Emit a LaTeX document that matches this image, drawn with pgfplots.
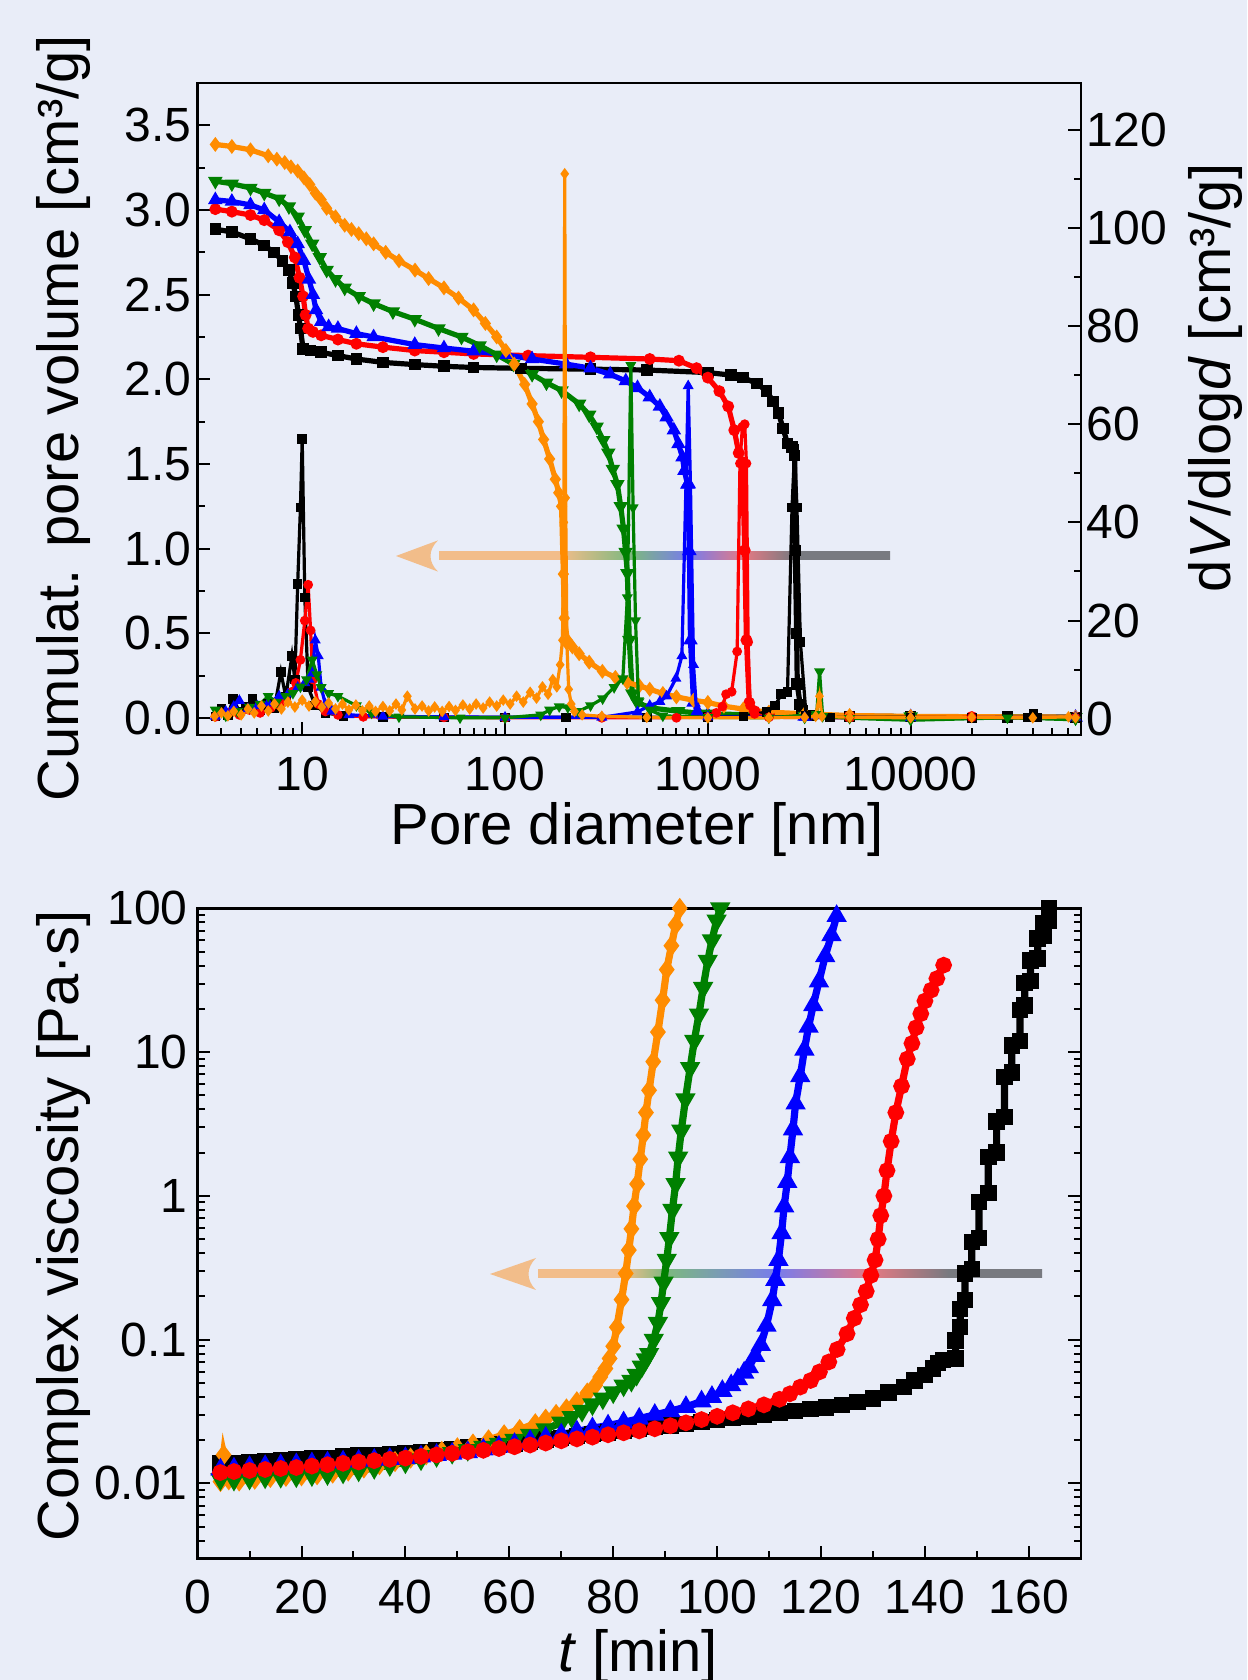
\documentclass[border=0pt]{standalone}
\usepackage{fontspec}
\setmainfont{Liberation Sans}
\usepackage{pgfplots}
\pgfplotsset{compat=1.18}

\definecolor{bg}{RGB}{233,237,248}
\definecolor{cgreen}{RGB}{0,128,0}
\definecolor{corange}{RGB}{255,140,0}
\definecolor{aor}{RGB}{242,189,138}
\definecolor{agr}{RGB}{124,184,128}
\definecolor{abl}{RGB}{120,124,236}
\definecolor{are}{RGB}{228,122,132}
\definecolor{abk}{RGB}{120,122,128}

% arrow gradients (centre 25bp..75bp maps onto the shaft)
\pgfdeclarehorizontalshading{arrtop}{100bp}{color(0bp)=(aor); color(38.4bp)=(aor); color(46.3bp)=(agr); color(52.7bp)=(abl); color(58.8bp)=(are); color(64.4bp)=(abk); color(100bp)=(abk)}
\pgfdeclarehorizontalshading{arrbot}{100bp}{color(0bp)=(aor); color(33.4bp)=(aor); color(37.8bp)=(agr); color(48.6bp)=(abl); color(58.1bp)=(are); color(65.7bp)=(abk); color(100bp)=(abk)}

\newcommand{\labfont}{\fontsize{14.5}{17}\selectfont}
\pgfplotsset{
  base/.style={scale only axis, width=220.8pt, anchor=south west,
    axis line style={line width=0.6pt}, tick style={black, line width=0.5pt},
    major tick length=3.2pt, minor tick length=1.8pt, tick align=inside,
    ticklabel style={font=\fontsize{12}{14}\selectfont},
    /pgf/number format/assume math mode=true},
  cum/.style={line width=1.3pt, mark size=0.8pt},
  dv/.style={line width=0.8pt, mark size=0.8pt},
  botc/.style={line width=1.8pt, mark size=1.15pt},
}

\begin{document}
\begin{tikzpicture}
\path[use as bounding box, fill=bg] (0,0) rectangle (311.75pt,420pt);

% arrows (under the curves)
\path[shading=arrtop] (109.75pt,280pt) rectangle (222.5pt,282pt);
\fill[aor] (99pt,281pt) -- (109.5pt,284.9pt) .. controls (107pt,282.5pt) and (107pt,279.5pt) .. (109.5pt,277.1pt) -- cycle;
\path[shading=arrbot] (134.5pt,100.5pt) rectangle (260.5pt,102.5pt);
\fill[aor] (122.5pt,101.5pt) -- (134pt,105.5pt) .. controls (131.5pt,103pt) and (131.5pt,100pt) .. (134pt,97.5pt) -- cycle;

% ---- top: cumulative pore volume
\begin{axis}[base, at={(49.4pt,236.25pt)}, height=163pt,
  xmode=log, xmin=3.05, xmax=69000, ymin=-0.1, ymax=3.75,
  xtick={10,100,1000,10000}, xticklabels={10,100,1000,10000},
  minor xtick={4,5,6,7,8,9,20,30,40,50,60,70,80,90,200,300,400,500,600,700,800,900,
    2000,3000,4000,5000,6000,7000,8000,9000,20000,30000,40000,50000,60000},
  ytick={0,0.5,...,3.5}, minor ytick={0.25,0.75,1.25,1.75,2.25,2.75,3.25},
  yticklabel style={/pgf/number format/fixed, /pgf/number format/fixed zerofill,
    /pgf/number format/precision=1, xshift=2pt},
  xtick pos=left, ytick pos=left,
  xticklabel style={yshift=-1.9pt},
  xlabel={Pore diameter [nm]}, ylabel={Cumulat. pore volume [cm³/g]},
  every axis x label/.style={at={(axis description cs:0.4975,-0.1687)}, anchor=base, font=\labfont},
  every axis y label/.style={at={(axis description cs:-0.1354,0.486)}, anchor=base, rotate=90, font=\labfont},
]
\addplot[cum, black, mark=square*] coordinates {(3.73,2.887)(4.5,2.87)(5.56,2.83)(6.5,2.79)(7.26,2.75)(8.0,2.70)(8.58,2.645)(9.0,2.57)(9.3,2.49)(9.6,2.38)(9.8,2.30)(10.1,2.18)(11,2.17)(12.4,2.16)(15,2.14)(18.5,2.12)(25,2.10)(35.9,2.087)(50,2.077)(70,2.07)(120,2.065)(264,2.06)(500,2.055)(1000,2.04)(1300,2.025)(1495,2.01)(1750,1.975)(1950,1.93)(2100,1.87)(2230,1.80)(2350,1.71)(2470,1.62)(2600,1.60)(2680,1.55)(2700,0.99)(2740,0.5)(2760,0.2)(2850,0.08)(2915,0.04)(3200,0.015)(5000,0.01)(10000,0.008)(30000,0.005)(65000,0.003)};
\addplot[cum, red, mark=*] coordinates {(3.73,3.005)(4.5,2.99)(5.56,2.97)(6.5,2.94)(7.7,2.88)(8.5,2.81)(9.2,2.72)(9.7,2.60)(10.1,2.49)(10.4,2.38)(10.7,2.30)(11.3,2.28)(12.4,2.26)(15,2.235)(18.5,2.21)(25,2.19)(35.9,2.17)(50,2.16)(70,2.15)(130,2.14)(264,2.13)(517,2.12)(720,2.11)(880,2.066)(1000,2.01)(1140,1.93)(1260,1.84)(1350,1.70)(1420,1.565)(1482,1.51)(1520,0.99)(1550,0.46)(1600,0.09)(1700,0.04)(2000,0.02)(5000,0.01)(20000,0.006)(65000,0.004)};
\addplot[cum, blue, mark=triangle*] coordinates {(3.73,3.06)(4.5,3.05)(5.56,3.03)(6.5,3.0)(7.7,2.93)(8.7,2.87)(9.5,2.80)(10.2,2.70)(10.8,2.59)(11.3,2.50)(11.7,2.41)(12.4,2.34)(13.5,2.31)(15,2.30)(18.5,2.27)(22.5,2.25)(35.9,2.205)(50,2.185)(70,2.166)(100,2.145)(136,2.12)(200,2.09)(264,2.066)(330,2.03)(394,1.99)(450,1.95)(517,1.895)(580,1.84)(626,1.776)(680,1.70)(716,1.618)(750,1.54)(766,1.46)(794,1.38)(811,0.987)(821,0.46)(850,0.092)(890,0.04)(1000,0.02)(3000,0.01)(10000,0.007)(65000,0.004)};
\addplot[cum, cgreen, mark=triangle*, mark options={rotate=180}] coordinates {(3.73,3.17)(4.5,3.155)(5.56,3.13)(6.5,3.10)(7.7,3.066)(8.6,3.02)(9.5,2.96)(10.3,2.88)(11.2,2.80)(12.2,2.72)(13.2,2.645)(14.6,2.59)(16.2,2.54)(19,2.49)(22.5,2.447)(28,2.40)(35.9,2.355)(47,2.30)(61,2.25)(75,2.20)(91,2.145)(110,2.09)(136,2.03)(160,1.98)(190,1.934)(232,1.855)(260,1.79)(283,1.72)(305,1.64)(323,1.566)(340,1.47)(358,1.38)(372,1.25)(384,1.118)(393,0.98)(401,0.855)(410,0.46)(424,0.145)(449,0.092)(520,0.06)(715,0.04)(1000,0.025)(3000,0.012)(10000,0.008)(65000,0.005)};
\addplot[cum, corange, mark=diamond*] coordinates {(3.73,3.387)(4.5,3.375)(5.56,3.355)(6.8,3.32)(7.5,3.30)(8.2,3.28)(8.8,3.255)(9.5,3.23)(10.2,3.19)(10.9,3.15)(11.6,3.10)(12.4,3.06)(13.2,3.01)(14.6,2.96)(16.2,2.91)(17.5,2.885)(19,2.86)(20.7,2.83)(22.5,2.80)(25.8,2.75)(30,2.70)(36,2.645)(42,2.595)(50,2.54)(59,2.48)(70,2.41)(80,2.33)(91,2.25)(101,2.17)(111,2.09)(125,1.97)(136,1.855)(146,1.75)(155,1.645)(166,1.53)(177,1.41)(184,1.33)(190,1.25)(194,0.85)(196,0.59)(203,0.46)(215,0.42)(232,0.38)(260,0.33)(302,0.276)(350,0.24)(400,0.21)(460,0.19)(517,0.17)(600,0.145)(700,0.125)(850,0.105)(1000,0.092)(1200,0.07)(1495,0.053)(2000,0.035)(3000,0.025)(5000,0.015)(10000,0.01)(65000,0.005)};
\end{axis}

% ---- top: dV/dlogd on the right axis
\begin{axis}[base, at={(49.4pt,236.25pt)}, height=163pt,
  xmode=log, xmin=3.05, xmax=69000, ymin=-3.3, ymax=129.5,
  hide x axis, ytick pos=right, yticklabel pos=right,
  ytick={0,20,...,120}, minor ytick={10,30,50,70,90,110},
  yticklabel style={xshift=-2pt},
  ylabel={d\textit{V}/dlog\textit{d} [cm³/g]},
  every axis y label/.style={at={(axis description cs:1.1698,0.5475)}, anchor=base, rotate=90, font=\labfont},
]
\addplot[dv, black, mark=square*] coordinates {(3.73,0.5)(4.0,2.0)(4.3,0.8)(4.57,4.0)(4.9,1.5)(5.3,2.5)(5.7,4.0)(6.2,1.8)(6.8,3.0)(7.3,2.2)(7.85,9.5)(8.3,4.5)(8.9,12.8)(9.2,8)(9.5,27.5)(9.8,43)(10.0,57)(10.3,24.7)(10.7,6.4)(11.6,2.7)(13,1.2)(16,0.6)(25,0.4)(50,0.3)(100,0.3)(200,0.3)(500,0.3)(1000,0.4)(1500,0.5)(1950,1.4)(2150,2.7)(2300,5.0)(2470,5.5)(2600,43)(2680,55)(2750,43)(2860,15.6)(3050,0.7)(4000,0.3)(10000,0.3)(20000,0.2)(38000,0.3)(40400,1.0)(42000,0.3)(65000,0.2)};
\addplot[dv, red, mark=*] coordinates {(3.73,0.4)(4.3,1.2)(4.9,0.8)(5.5,1.8)(6.2,1.2)(7.0,2.2)(7.7,2.8)(8.3,4.0)(8.9,5.5)(9.3,7.3)(9.8,12)(10.3,20)(10.7,27.3)(11.0,18)(11.3,8)(12,3)(13,1.5)(15,0.8)(20,0.4)(50,0.3)(100,0.2)(300,0.2)(700,0.2)(1000,0.4)(1100,1.2)(1180,2.5)(1230,5.0)(1310,5.5)(1395,13.7)(1440,52)(1480,59.5)(1520,60)(1550,52)(1580,15.6)(1615,2.7)(1700,1.0)(2000,0.3)(5000,0.2)(20000,0.3)(65000,0.2)};
\addplot[dv, blue, mark=triangle*] coordinates {(3.73,0.5)(4.2,1.5)(4.6,2.5)(4.9,3.7)(5.4,2.0)(6.0,2.6)(6.8,3.2)(7.7,4.6)(8.5,5.0)(9.5,6.4)(10.3,7.3)(10.8,8)(11.2,9.2)(11.6,16)(12.0,12.8)(12.4,6.4)(13,3)(14,1.5)(17,0.8)(25,0.5)(50,0.4)(100,0.3)(300,0.3)(450,1.4)(517,2.7)(580,3.5)(626,4.6)(696,8.2)(745,12.8)(780,47.6)(800,67.8)(821,47.6)(850,11)(880,1.4)(1000,0.4)(3000,0.3)(10000,0.2)(65000,0.3)};
\addplot[dv, cgreen, mark=triangle*, mark options={rotate=180}] coordinates {(3.73,1.8)(4.2,0.6)(4.8,1.5)(5.5,2.4)(6.2,3.0)(6.8,4.6)(7.5,3.4)(8.3,4.6)(9.0,5.2)(9.8,6.5)(10.5,8)(11.2,12)(11.8,9)(12.4,6.4)(13.5,5.2)(15,4.6)(18.5,2.7)(22,1.2)(30,0.4)(60,0.2)(100,0.2)(150,0.8)(166,1.8)(185,2.5)(204,2.3)(230,1.5)(264,2.7)(303,4.1)(345,6.4)(381,8.2)(401,24.7)(417,72)(428,43)(440,20)(455,3.7)(517,1.8)(600,0.6)(1000,0.3)(2000,0.2)(3440,0.9)(3556,9.6)(3680,0.5)(5000,0.1)(10000,-0.3)(30000,0.2)(65000,-0.2)};
\addplot[dv, corange, mark=diamond*] coordinates {(3.7,0.5)(4.0,1.2)(4.3,0.6)(4.6,1.5)(5.0,0.8)(5.4,2.0)(5.8,1.2)(6.3,2.6)(6.8,1.6)(7.3,3.0)(7.9,2.0)(8.5,3.4)(9.2,2.4)(10,3.8)(10.8,2.6)(11.6,3.5)(12.5,2.4)(13.5,3.2)(14.6,2.0)(15.8,3.0)(17,1.8)(18.4,2.8)(19.8,1.6)(21.4,2.6)(23,1.5)(25,2.5)(27,1.6)(29,3.0)(31,1.8)(33,4.6)(36,2.0)(39,2.6)(42,1.6)(45,2.4)(49,1.5)(53,2.5)(57,1.7)(62,2.8)(67,2.0)(72,3.0)(78,2.2)(84,3.4)(91,2.6)(98,3.8)(106,3.0)(114,4.6)(123,3.4)(133,5.4)(143,4.2)(153,6.5)(163,5.0)(172,8.0)(180,6.5)(187,11)(192,16)(195,40)(197,111)(199,45)(202,15)(206,6)(212,3)(220,1.5)(240,0.8)(300,0.5)(500,0.3)(1000,0.2)(2000,0.2)(3000,0.3)(3400,0.5)(3550,4.6)(3650,0.5)(5000,0.3)(10000,0.2)(20000,0.3)(40000,0.2)(60000,0.4)(65000,0.2)};
\end{axis}

% ---- bottom: complex viscosity
\begin{axis}[base, at={(49.4pt,30.35pt)}, height=162.55pt,
  ymode=log, xmin=0, xmax=170, ymin=0.003, ymax=100,
  xtick={0,20,...,160}, minor x tick num=1,
  ytick={0.01,0.1,1,10,100}, yticklabels={0.01,0.1,1,10,100},
  minor ytick={0.003,0.004,0.005,0.006,0.007,0.008,0.009,0.02,0.03,0.04,0.05,0.06,0.07,0.08,0.09,
    0.2,0.3,0.4,0.5,0.6,0.7,0.8,0.9,2,3,4,5,6,7,8,9,20,30,40,50,60,70,80,90},
  xtick pos=left, ytick pos=both, yticklabel pos=left,
  xticklabel style={yshift=-1.7pt}, yticklabel style={xshift=1pt},
  xlabel={\textit{t} [min]}, ylabel={Complex viscosity [Pa·s]},
  every axis x label/.style={at={(axis description cs:0.4986,-0.1738)}, anchor=base, font=\labfont},
  every axis y label/.style={at={(axis description cs:-0.1354,0.5115)}, anchor=base, rotate=90, font=\labfont},
]
\addplot[botc, black, mark=square*] coordinates {(4.4,0.0138)(7,0.0139)(10,0.0141)(13,0.0143)(16,0.0145)(19,0.0147)(22,0.0149)(25,0.0151)(28,0.0154)(31,0.0156)(34,0.0158)(37,0.0161)(40,0.0163)(43,0.0166)(46,0.0170)(49,0.0174)(52,0.0178)(55,0.0182)(58,0.0186)(61,0.019)(64,0.0196)(67,0.0202)(70,0.0207)(73,0.0213)(76,0.022)(79,0.0226)(82,0.0232)(85,0.0239)(88,0.0246)(91,0.0253)(94,0.026)(97,0.0268)(100,0.0276)(103,0.0284)(106,0.0292)(109,0.03)(112,0.031)(115,0.032)(118,0.0328)(121,0.0337)(124,0.0352)(127,0.037)(130,0.039)(133,0.043)(136,0.047)(138,0.052)(140,0.057)(141.5,0.063)(142.5,0.069)(143.5,0.072)(145.9,0.0741)(145.9,0.0986)(146.8,0.122)(146.8,0.163)(147.7,0.188)(147.7,0.288)(149,0.31)(149,0.476)(150.4,0.512)(150.4,0.908)(152.2,1.05)(152.2,1.86)(153.8,2.0)(153.8,3.29)(155.3,3.53)(155.3,6.73)(156.7,7.23)(156.7,11.1)(158.3,11.9)(158.3,19.7)(159.2,21.1)(159.2,30.3)(160.3,31.4)(160.3,43.3)(161.7,44.9)(161.7,61.9)(162.8,64.2)(162.8,79.4)(163.9,82.4)(163.9,100)};
\addplot[botc, corange, mark=diamond*] coordinates {(4.4,0.0103)(5,0.0158)(6,0.0106)(8,0.0104)(11,0.0107)(14,0.011)(17,0.0112)(20,0.0113)(23,0.0115)(26,0.0118)(29,0.0122)(32,0.0128)(35,0.0135)(38,0.0142)(41,0.015)(44,0.0158)(47,0.0167)(50,0.0177)(53,0.0188)(56,0.0201)(59,0.0218)(62,0.0237)(65,0.026)(67,0.028)(69,0.0302)(71,0.033)(73,0.037)(75,0.0425)(76.5,0.048)(77.5,0.055)(78.5,0.063)(79.3,0.074)(80,0.09)(80.7,0.122)(81.6,0.19)(82.4,0.289)(83,0.42)(83.5,0.59)(84,0.85)(84.6,1.21)(85.2,1.8)(85.8,2.65)(86.3,3.8)(86.9,5.43)(87.7,8.6)(88.6,13.8)(89.5,23)(90.3,37.5)(91.2,55)(92,76.8)(92.8,100)};
\addplot[botc, cgreen, mark=triangle*, mark options={rotate=180}] coordinates {(4.4,0.0107)(7,0.0106)(10,0.0108)(13,0.011)(16,0.0111)(19,0.0112)(22,0.0114)(25,0.0116)(28,0.0119)(31,0.0123)(34,0.0128)(37,0.0134)(40,0.014)(43,0.0147)(46,0.0155)(49,0.0163)(52,0.0171)(55,0.018)(58,0.0189)(61,0.0201)(64,0.0218)(67,0.0238)(70,0.0265)(72,0.029)(74,0.032)(76,0.0355)(78,0.039)(80,0.043)(82,0.048)(83.5,0.0518)(84.5,0.057)(85.5,0.065)(86.3,0.073)(86.9,0.0796)(87.8,0.1)(88.6,0.131)(89.2,0.18)(89.7,0.25)(90.3,0.36)(90.8,0.51)(91.4,0.8)(92,1.21)(92.5,1.85)(93.1,2.85)(93.9,4.7)(94.8,7.76)(95.6,12)(96.5,18.3)(97.3,28)(98.2,43.3)(99,60)(99.9,82.4)(100.6,100)};
\addplot[botc, blue, mark=triangle*] coordinates {(4.4,0.0125)(7,0.0127)(10,0.013)(13,0.0132)(16,0.0134)(19,0.0136)(22,0.0138)(25,0.014)(28,0.0142)(31,0.0144)(34,0.0146)(37,0.0148)(40,0.015)(43,0.0154)(46,0.0158)(49,0.0161)(52,0.0165)(55,0.0172)(58,0.018)(61,0.0188)(64,0.0198)(67,0.0208)(70,0.0219)(73,0.023)(76,0.0242)(79,0.0253)(82,0.0266)(85,0.0282)(88,0.03)(91,0.0318)(94,0.034)(97,0.0372)(99,0.04)(101,0.044)(102.7,0.0482)(104,0.053)(105.2,0.059)(106.1,0.0642)(107.3,0.077)(108.4,0.0918)(109.5,0.125)(110.6,0.188)(111.2,0.26)(111.8,0.358)(112.4,0.55)(112.9,0.845)(113.5,1.25)(114,1.86)(114.6,2.9)(115.1,4.39)(116,6.8)(116.8,10.4)(117.6,15)(118.5,21.2)(119.6,31)(120.8,46.5)(122,65)(123,88.5)};
\addplot[botc, red, mark=*] coordinates {(4.4,0.0119)(7,0.0121)(10,0.0123)(13,0.0125)(16,0.0127)(19,0.0129)(22,0.0132)(25,0.0135)(28,0.0138)(31,0.0141)(34,0.0144)(37,0.0147)(40,0.0150)(43,0.0154)(46,0.0158)(49,0.0162)(52,0.0166)(55,0.017)(58,0.0175)(61,0.018)(64,0.0185)(67,0.0191)(70,0.0198)(73,0.0204)(76,0.021)(79,0.0218)(82,0.0225)(85,0.0232)(88,0.024)(91,0.0252)(94,0.0264)(97,0.0278)(100,0.0293)(103,0.031)(106,0.033)(109,0.0352)(112,0.0385)(114,0.042)(116,0.0468)(118,0.052)(119.7,0.0597)(121.5,0.070)(123.1,0.0855)(125,0.11)(126.4,0.141)(127.6,0.175)(128.7,0.217)(129.6,0.28)(130.4,0.358)(131,0.5)(131.5,0.73)(132.1,1.0)(132.7,1.5)(133.5,2.4)(134.4,3.8)(135.5,5.8)(136.6,8.97)(137.5,11.5)(138.3,14.8)(139.2,18.5)(140,22.7)(141.2,27)(142.3,32.5)(143.6,40.3)};
\end{axis}
\end{tikzpicture}
\end{document}
